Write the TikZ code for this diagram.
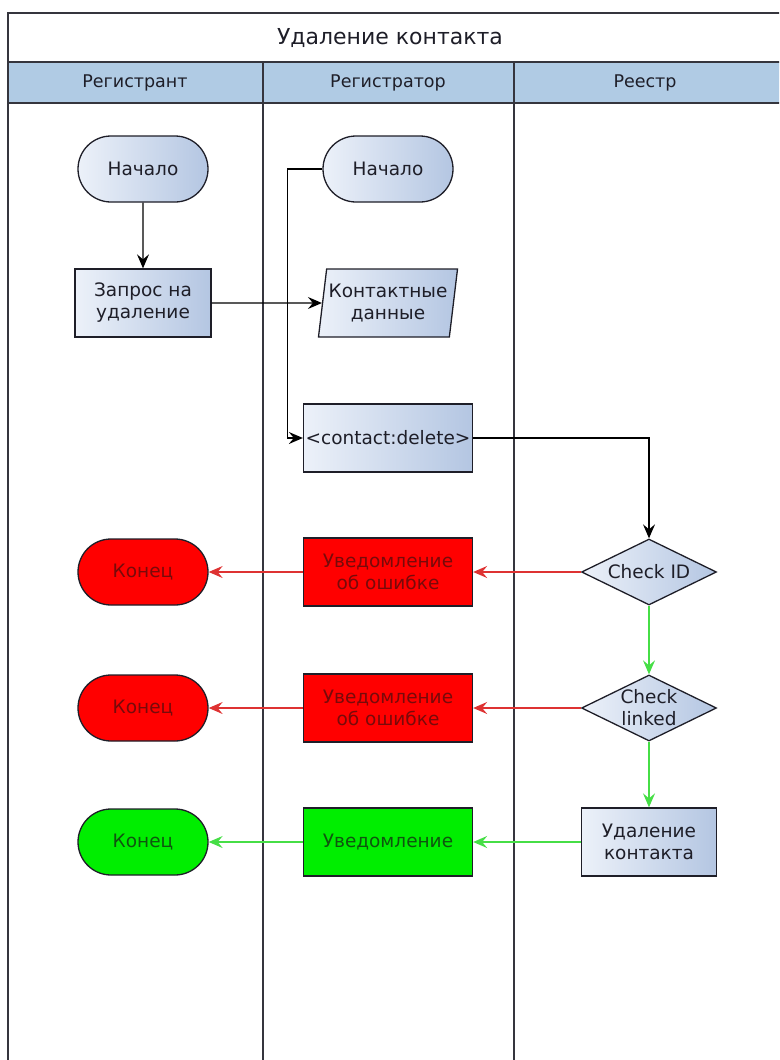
\documentclass[tikz,border=0pt]{standalone}
\usepackage{fontspec}
\setmainfont{DejaVu Sans}
\usetikzlibrary{shapes.geometric,shapes.misc,arrows.meta}

\definecolor{lanehead}{RGB}{176,203,228}
\definecolor{boxlight}{RGB}{236,241,249}
\definecolor{boxdark}{RGB}{180,198,226}
\definecolor{errfill}{RGB}{255,0,0}
\definecolor{errtext}{RGB}{120,10,10}
\definecolor{okfill}{RGB}{0,238,0}
\definecolor{oktext}{RGB}{15,85,15}
\definecolor{errline}{RGB}{222,50,50}
\definecolor{okline}{RGB}{70,222,70}
\definecolor{ink}{RGB}{30,30,40}

\tikzset{
  base/.style={draw=ink, line width=1.3pt, text=ink, align=center, inner sep=2pt,
    font=\fontsize{18.5}{22}\selectfont},
  grad/.style={left color=boxlight, right color=boxdark},
  terminal/.style={base, rounded rectangle, minimum width=134pt, minimum height=66pt},
  proc/.style={base, rectangle, minimum height=68pt},
  decision/.style={base, diamond, aspect=2, inner sep=-8pt,
    minimum width=135pt, minimum height=66pt},
  datain/.style={base, trapezium, trapezium left angle=79, trapezium right angle=101,
    trapezium stretches=true, minimum width=136pt, minimum height=68pt},
  errnode/.style={fill=errfill, text=errtext},
  oknode/.style={fill=okfill, text=oktext},
  flow/.style={draw=black, line width=1.4pt, -{Stealth[length=14pt,width=12pt,inset=5pt]}},
  errflow/.style={flow, draw=errline},
  okflow/.style={flow, draw=okline},
  lane/.style={draw=ink!90, line width=1.5pt},
  headtext/.style={text=ink, font=\fontsize{17.5}{21}\selectfont},
}

\begin{document}
\begin{tikzpicture}[x=1pt,y=-1pt]
\useasboundingbox (0,0) rectangle (779,1060);
\clip (0,0) rectangle (779,1060);

\fill[lanehead] (8,62) rectangle (785,103);
\draw[lane] (8,1065) -- (8,13) -- (785,13);
\draw[lane] (8,62) -- (785,62);
\draw[lane] (8,103) -- (785,103);
\draw[lane] (263,62) -- (263,1065);
\draw[lane] (514,62) -- (514,1065);

\node[headtext, font=\fontsize{22}{26}\selectfont] (title) at (390,38) {Удаление контакта};
\node[headtext] (hdrant) at (135,83) {Регистрант};
\node[headtext] (hdrar) at (388,83) {Регистратор};
\node[headtext] (hdreg) at (645,83) {Реестр};

\node[terminal, grad] (st1) at (143,169) {Начало};
\node[terminal, grad] (st2) at (388,169) {Начало};
\node[proc, grad, minimum width=136pt] (req) at (143,303) {Запрос на\\удаление};
\node[datain, grad] (data) at (388,303) {Контактные\\данные};
\node[proc, grad, minimum width=169pt, inner sep=0pt] (cd) at (388,438) {<contact:delete>};

\node[decision, grad] (chkid) at (649,572) {Check ID};
\node[proc, errnode, minimum width=169pt] (err1) at (388,572) {Уведомление\\об ошибке};
\node[terminal, errnode] (end1) at (143,572) {Конец};

\node[decision, grad] (chkln) at (649,708) {Check\\linked};
\node[proc, errnode, minimum width=169pt] (err2) at (388,708) {Уведомление\\об ошибке};
\node[terminal, errnode] (end2) at (143,708) {Конец};

\node[proc, grad, minimum width=135pt] (del) at (649,842) {Удаление\\контакта};
\node[proc, oknode, minimum width=169pt] (note) at (388,842) {Уведомление};
\node[terminal, oknode] (end3) at (143,842) {Конец};

\draw[flow] (st1) -- (req);
\draw[flow] (req.east) -- (data.west);
\draw[flow] (st2.west) -- ++(-35,0) |- (cd.west);
\draw[flow] (cd.east) -| (chkid.north);

\draw[errflow] (chkid.west) -- (err1.east);
\draw[errflow] (err1.west) -- (end1.east);
\draw[okflow] (chkid.south) -- (chkln.north);
\draw[errflow] (chkln.west) -- (err2.east);
\draw[errflow] (err2.west) -- (end2.east);
\draw[okflow] (chkln.south) -- (del.north);
\draw[okflow] (del.west) -- (note.east);
\draw[okflow] (note.west) -- (end3.east);
\end{tikzpicture}
\end{document}
